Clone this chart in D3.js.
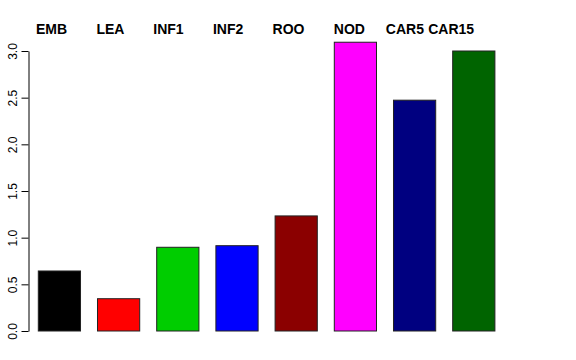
<!DOCTYPE html>
<html>
<head>
<meta charset="utf-8">
<script src="https://cdn.jsdelivr.net/npm/d3@7"></script>
<style>
  body { margin: 0; background: #fff; }
  text { font-family: "Liberation Sans", Arial, sans-serif; }
</style>
</head>
<body>
<div id="chart"></div>
<script>
// bar data
var categories = ["EMB", "LEA", "INF1", "INF2", "ROO", "NOD", "CAR5", "CAR15"];
var values = [0.643, 0.346, 0.897, 0.914, 1.233, 3.094, 2.473, 3.0];
var barColors = ["#000000", "#ff0000", "#00cd00", "#0000ff", "#8b0000", "#ff00ff", "#000080", "#006400"];
var yTicks = [0, 0.5, 1, 1.5, 2, 2.5, 3];
// title is one spaced string, like the original main title
var title = "EMB       LEA       INF1       INF2       ROO       NOD     CAR5 CAR15";

var svgWidth = 576;
var svgHeight = 360;

var svg = d3.select("#chart")
  .append("svg")
  .attr("width", svgWidth)
  .attr("height", svgHeight);

var xScale = d3.scaleBand()
  .domain(categories)
  .range([38.3, 494.9])
  .paddingInner(0.287)
  .paddingOuter(0);

var yScale = d3.scaleLinear()
  .domain([0, 3])
  .range([331, 51]);

// bars
svg.selectAll("rect.bar")
  .data(categories)
  .enter()
  .append("rect")
  .attr("class", "bar")
  .attr("x", d => xScale(d))
  .attr("width", xScale.bandwidth())
  .attr("y", (d, i) => yScale(values[i]))
  .attr("height", (d, i) => yScale(0) - yScale(values[i]))
  .attr("fill", (d, i) => barColors[i])
  .attr("stroke", "#222")
  .attr("stroke-width", 1);

// y axis
var leftAxis = d3.axisLeft(yScale)
  .tickValues(yTicks)
  .tickFormat(d3.format(".1f"))
  .tickSizeOuter(0)
  .tickSizeInner(7);

var yAxis = svg.append("g")
  .attr("transform", "translate(28.5, 0)")
  .call(leftAxis);

yAxis.select(".domain").attr("stroke", "#000");
yAxis.selectAll(".tick line").attr("stroke", "#000");
yAxis.selectAll(".tick text")
  .attr("transform", "rotate(-90)")
  .attr("x", 0)
  .attr("y", -11.5)
  .attr("dy", 0)
  .attr("text-anchor", "middle")
  .attr("font-size", 12)
  .attr("font-family", "Liberation Sans, Arial, sans-serif")
  .attr("fill", "#000");

// title
svg.append("text")
  .attr("x", 36)
  .attr("y", 34)
  .attr("font-size", 14)
  .attr("font-weight", "bold")
  .attr("fill", "#000")
  .style("white-space", "pre")
  .style("word-spacing", "0.3px")
  .text(title);
</script>
</body>
</html>
